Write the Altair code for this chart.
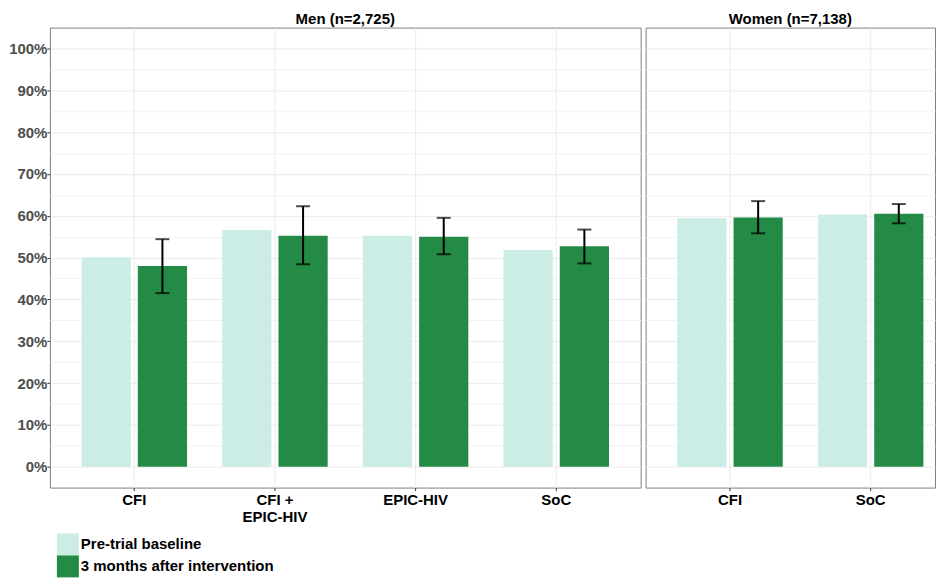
import altair as alt
import pandas as pd

series = ["Pre-trial baseline", "3 months after intervention"]
colors = ["#CCECE6", "#238B45"]

men_title = "Men (n=2,725)"
men_cats = ["CFI", "CFI +\nEPIC-HIV", "EPIC-HIV", "SoC"]
men_baseline = [50.1, 56.6, 55.2, 51.8]
men_after = [48.0, 55.2, 55.0, 52.7]
men_lo = [41.5, 48.4, 50.8, 48.6]
men_hi = [54.4, 62.3, 59.5, 56.7]

women_title = "Women (n=7,138)"
women_cats = ["CFI", "SoC"]
women_baseline = [59.4, 60.3]
women_after = [59.6, 60.5]
women_lo = [55.8, 58.2]
women_hi = [63.5, 62.8]

major_ticks = list(range(0, 101, 10))
minor_ticks = list(range(5, 100, 10))
FONT = "Liberation Sans"


def panel(cats, base, after, lo, hi, title, width, xscale, xoscale, first):
    n = len(cats)
    bars = pd.DataFrame({
        "cat": cats * 2,
        "series": [series[0]] * n + [series[1]] * n,
        "value": base + after,
    })
    err = pd.DataFrame({"cat": cats, "series": [series[1]] * n, "lo": lo, "hi": hi})
    yscale = alt.Scale(domain=[-5, 105], nice=False, zero=False)
    x = alt.X(
        "cat:N", sort=cats,
        scale=alt.Scale(**xscale),
        axis=alt.Axis(
            title=None, labelAngle=0, labelExpr="split(datum.label, '\\n')",
            labelFontSize=15, labelFontWeight="bold", labelColor="black", labelFont=FONT,
            labelLineHeight=17, labelPadding=2, tickSize=3, tickColor="#333333",
            domain=False, grid=True, gridColor="#EBEBEB", bandPosition=0.5,
        ),
    )
    xo = alt.XOffset("series:N", sort=series,
                     scale=alt.Scale(domain=series, **xoscale))
    if first:
        yaxis = alt.Axis(
            title=None, values=major_ticks, labelExpr="datum.value + '%'",
            labelFontSize=15, labelFontWeight="bold", labelColor="#4D4D4D", labelFont=FONT,
            labelPadding=0, tickSize=3, tickColor="#333333", domain=False,
            grid=True, gridColor="#EBEBEB",
        )
        legend = alt.Legend(
            title=None, orient="none", legendX=7, legendY=507, symbolType="square",
            symbolSize=484, symbolStrokeWidth=0, symbolOpacity=1, labelFontSize=15,
            labelFontWeight="bold", labelColor="black", labelFont=FONT, rowPadding=0,
            labelOffset=2, labelLimit=0,
        )
    else:
        yaxis = alt.Axis(title=None, values=major_ticks, labels=False, ticks=False,
                         domain=False, grid=True, gridColor="#EBEBEB")
        legend = None
    minor_axis = alt.Axis(title=None, orient="right", values=minor_ticks, labels=False,
                          ticks=False, domain=False, grid=True, gridColor="#F2F2F2")

    grid_layer = alt.Chart(err).mark_rule(opacity=0).encode(
        y=alt.Y("lo:Q", scale=yscale, axis=minor_axis)
    )
    color_kwargs = dict(sort=series, scale=alt.Scale(domain=series, range=colors))
    if legend is None:
        color = alt.Color("series:N", legend=None, **color_kwargs)
    else:
        color = alt.Color("series:N", legend=legend, **color_kwargs)
    bar_layer = alt.Chart(bars).mark_bar().encode(
        x=x, xOffset=xo,
        y=alt.Y("value:Q", scale=yscale, axis=yaxis),
        color=color,
    )
    rule_layer = alt.Chart(err).mark_rule(color="black", strokeWidth=2).encode(
        x=x, xOffset=xo, y=alt.Y("lo:Q", scale=yscale, axis=None), y2="hi:Q"
    )
    lo_tick = alt.Chart(err).mark_tick(color="black", thickness=2, size=14, orient="horizontal").encode(
        x=x, xOffset=xo, y=alt.Y("lo:Q", scale=yscale, axis=None)
    )
    hi_tick = alt.Chart(err).mark_tick(color="black", thickness=2, size=14, orient="horizontal").encode(
        x=x, xOffset=xo, y=alt.Y("hi:Q", scale=yscale, axis=None)
    )
    return alt.layer(grid_layer, bar_layer, rule_layer, lo_tick, hi_tick).resolve_axis(
        y="independent"
    ).properties(width=width, height=461,
                 title=alt.Title(title, offset=1, font=FONT, fontSize=15,
                                 fontWeight="bold", color="black", anchor="middle"))


men = panel(men_cats, men_baseline, men_after, men_lo, men_hi, men_title, 592,
            dict(paddingInner=0, paddingOuter=0.1),
            dict(paddingInner=0.125, paddingOuter=0.3125), True)
# Women panel is cropped at the right edge in the reference: same step as Men,
# bands shifted so the centres keep their place.
women = panel(women_cats, women_baseline, women_after, women_lo, women_hi, women_title, 290,
              dict(paddingInner=0.2, paddingOuter=0.1287, align=0.777),
              dict(paddingInner=0.126, paddingOuter=0.063), False)

chart = alt.hconcat(men, women, spacing=3).resolve_scale(
    x="independent", xOffset="independent", y="independent", color="independent"
).properties(padding={"top": 2, "left": 0, "right": 0, "bottom": 0}).configure_view(
    stroke="#7F7F7F", strokeWidth=1
)

chart.save("out.html", embed_options={"renderer": "svg", "actions": False})
